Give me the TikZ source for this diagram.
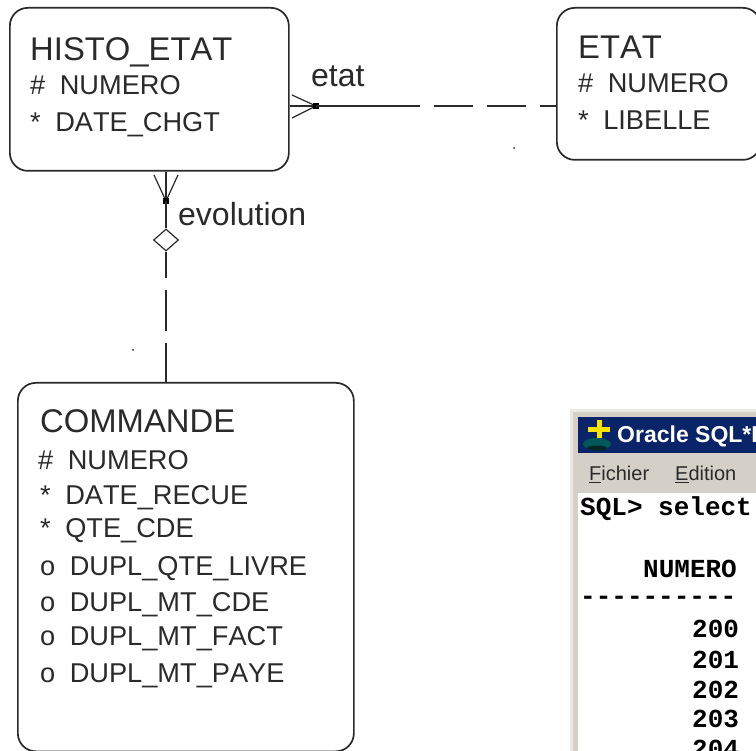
\documentclass[tikz,border=0pt]{standalone}
\usepackage{fontspec}
\setmainfont[Kerning=Off]{Liberation Sans}
\newfontfamily\monob{Liberation Mono}[BoldFont={Liberation Mono Bold}]
\usetikzlibrary{shapes.geometric}
\definecolor{ink}{HTML}{2A2A2A}
\definecolor{navy}{HTML}{0A246A}
\definecolor{winbg}{HTML}{D4D0C8}
\definecolor{winedge}{HTML}{EAE8E2}
\newcommand{\mk}[1]{#1\hspace{14.5pt}}
\tikzset{
  entity/.style={draw=ink,line width=1.7pt,rounded corners=18pt,anchor=north west,inner sep=0pt},
  title/.style={anchor=base west,inner sep=0pt,text=ink,font=\fontsize{32.8}{33}\selectfont},
  attr/.style={anchor=base west,inner sep=0pt,text=ink,font=\fontsize{27.2}{28}\selectfont},
  rel/.style={anchor=base west,inner sep=0pt,text=ink,font=\fontsize{32}{32}\selectfont},
  link/.style={draw=ink,line width=1.7pt},
  foot/.style={draw=ink,line width=1.2pt},
  sql/.style={anchor=base west,inner sep=0pt,text=black,font=\monob\bfseries\fontsize{26}{26}\selectfont},
  menu/.style={anchor=base west,inner sep=0pt,text=ink,font=\fontsize{20}{20}\selectfont},
}
\begin{document}
\begin{tikzpicture}[x=1pt,y=-1pt]
\useasboundingbox (0,0) rectangle (756,751);
\clip (0,0) rectangle (756,751);
\fill[white] (0,0) rectangle (756,751);
% entities
\node[entity,minimum width=279pt,minimum height=163pt] (histo) at (9,7) {};
\node[entity,minimum width=204pt,minimum height=152pt] (etat) at (556,7) {};
\node[entity,minimum width=336pt,minimum height=368.5pt] (cmd) at (17,382) {};
% HISTO_ETAT
\node[title] (t1) at (30,61) {HISTO\_ETAT};
\node[attr] (a1) at (30,95) {\mk{\#}NUMERO};
\node[attr] (a2) at (30,132) {\mk{*}DATE\_CHGT};
% ETAT
\node[title] (t2) at (578,59) {ETAT};
\node[attr] (a3) at (578,93) {\mk{\#}NUMERO};
\node[attr] (a4) at (578,130) {\mk{*}LIBELLE};
% COMMANDE
\node[title] (t3) at (40,433) {COMMANDE};
\node[attr] (c1) at (38,470) {\mk{\#}NUMERO};
\node[attr] (c2) at (40,505) {\mk{*}DATE\_RECUE};
\node[attr] (c3) at (40,538) {\mk{*}QTE\_CDE};
\node[attr] (c4) at (40,576) {\mk{o}DUPL\_QTE\_LIVRE};
\node[attr] (c5) at (40,611) {\mk{o}DUPL\_MT\_CDE};
\node[attr] (c6) at (40,645) {\mk{o}DUPL\_MT\_FACT};
\node[attr] (c7) at (40,682) {\mk{o}DUPL\_MT\_PAYE};
% relation labels
\node[rel] (r1) at (311,87) {etat};
\node[rel] (r2) at (178,226) {evolution};
% connector etat
\coordinate (dotA) at (316,106);
\coordinate (footA1) at (292,95);
\coordinate (footA2) at (292,118);
\path[link] (histo.east |- dotA) -- (dotA);
\path[foot] (dotA) -- (footA1);
\path[foot] (dotA) -- (footA2);
\fill[black] ([shift={(-3,-3)}]dotA) rectangle ++(6,6);
\draw[link,dash pattern=on 104pt off 14pt on 39pt off 14pt on 39pt off 14pt on 30pt] (dotA) -- (etat.west |- dotA);
% connector evolution
\coordinate (dotB) at (166,201);
\coordinate (footB1) at (154,175);
\coordinate (footB2) at (178,175);
\path[link] (dotB |- histo.south) -- (dotB);
\path[foot] (dotB) -- (footB1);
\path[foot] (dotB) -- (footB2);
\fill[black] ([shift={(-3,-3)}]dotB) rectangle ++(6,6);
\node[diamond,draw=ink,line width=1.2pt,fill=white,minimum width=25pt,minimum height=22pt,inner sep=0pt] (opt) at (166,240) {};
\draw[link] (dotB) -- (opt.north);
\draw[link,dash pattern=on 26pt off 12pt on 41pt off 12pt on 60pt] (opt.south) -- (cmd.north -| opt);
% specks
\fill[ink] (514,148) circle (1pt);
\fill[ink] (133,350) circle (1pt);
% window
\fill[winedge] (570,409) rectangle (756,751);
\fill[winbg] (573,412) rectangle (756,751);
\fill[white] (578,493) rectangle (756,751);
\fill[navy] (578,417) rectangle (756,453);
\node[anchor=base west,inner sep=0pt,text=white,font=\bfseries\fontsize{23}{23}\selectfont] (wt) at (617,443) {Oracle SQL*P};
\fill[teal!70!black] (597,444) ellipse (14pt and 6pt);
\fill[black!70!teal] (597,448) ellipse (10pt and 2.5pt);
\fill[yellow!85!orange] (596.5,420) rectangle (601.5,438);
\fill[yellow!85!orange] (588,427) rectangle (610,432);
\node[menu] (m1) at (589,481) {\underline{F}ichier};
\node[menu] (m2) at (675,481) {\underline{E}dition};
\node[sql] (s1) at (580,516) {SQL> select};
\node[sql] (s2) at (643,577) {NUMERO};
\node[sql] (s3) at (580,605) {----------};
\node[sql] (s4) at (692,637) {200};
\node[sql] (s5) at (692,668) {201};
\node[sql] (s6) at (692,698) {202};
\node[sql] (s7) at (692,727) {203};
\node[sql] (s8) at (692,757) {204};
\end{tikzpicture}
\end{document}
